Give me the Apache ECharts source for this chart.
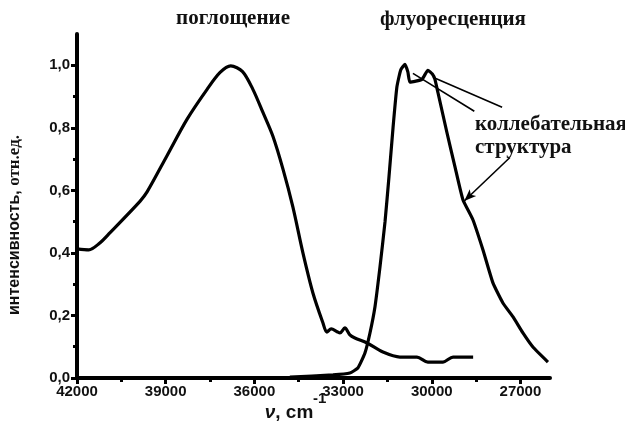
<!DOCTYPE html>
<html>
<head>
<meta charset="utf-8">
<script src="https://cdn.jsdelivr.net/npm/echarts@6/dist/echarts.min.js"></script>
<style>html,body{margin:0;padding:0;background:#fff}#c{width:625px;height:425px}</style>
</head>
<body>
<div id="c"></div>
<script>
// ---- data ----
const absWavenumber = [42000,41600,41250,40880,39870,39630,38960,38280,37600,37160,36800,36400,36050,35710,35370,35030,34700,34360,34020,33680,33550,33400,33200,33105,32940,32770,32600,32190,31650,31075,30500,30130,29620,29280,28600];
const absIntensity  = [0.413,0.410,0.430,0.465,0.565,0.595,0.710,0.827,0.923,0.977,0.998,0.980,0.923,0.849,0.772,0.667,0.548,0.401,0.272,0.176,0.147,0.157,0.148,0.144,0.160,0.138,0.128,0.112,0.083,0.067,0.067,0.051,0.051,0.067,0.067];

const fluWavenumber = [34800,33340,32770,32500,32260,32090,31920,31750,31580,31450,31310,31180,31050,30907,30806,30738,30332,30130,29980,29892,29791,29487,29216,28945,28608,28269,27930,27593,27255,26916,26578,26070];
const fluIntensity  = [0.003,0.010,0.016,0.032,0.080,0.144,0.228,0.356,0.500,0.640,0.800,0.930,0.985,1.003,0.978,0.946,0.955,0.984,0.972,0.955,0.913,0.785,0.676,0.570,0.506,0.410,0.304,0.240,0.196,0.144,0.099,0.051];

const xMajorTicks = [42000,39000,36000,33000,30000,27000];
const xMinorTicks = [40500,37500,34500,31500,28500];
const yMajorTicks = [0,0.2,0.4,0.6,0.8,1.0];
const yMinorTicks = [0.1,0.3,0.5,0.7,0.9];

const titleAbs = 'поглощение';
const titleFlu = 'флуоресценция';
const annotationText = ['коллебательная','структура'];
// annotation pointer lines: [from, to] in data coordinates
const pointerPlain = [
  [[30636,0.974],[28560,0.853]],
  [[29960,0.962],[27620,0.866]]
];
const pointerArrow = [[27356,0.705],[28900,0.566]];

// ---- chart ----
const chart = echarts.init(document.getElementById('c'), null, {renderer:'canvas'});
const fmt = v => v.toFixed(1).replace('.', ',');
const black = '#000';
const axisFont = {fontFamily:'Liberation Sans, Arial, sans-serif', fontWeight:'bold', fontSize:15, color:'#111'};
const serif = '"Liberation Serif", "Times New Roman", serif';

const option = {
  animation:false,
  backgroundColor:'#fff',
  grid:{left:77,right:75,top:34,bottom:47},
  xAxis:[{
    type:'value', min:26000, max:42000, inverse:true,
    axisLine:{show:true,onZero:false,lineStyle:{color:black,width:4,cap:'round'}},
    axisTick:{show:true,inside:false,length:6,customValues:xMajorTicks,lineStyle:{color:black,width:3}},
    axisLabel:{show:true,customValues:xMajorTicks,margin:6,formatter:v=>String(v),...axisFont},
    splitLine:{show:false}
  },{
    type:'value', min:26000, max:42000, inverse:true, position:'bottom',
    axisLine:{show:false},
    axisTick:{show:true,inside:false,length:4,customValues:xMinorTicks,lineStyle:{color:black,width:3}},
    axisLabel:{show:false},
    splitLine:{show:false}
  }],
  yAxis:[{
    type:'value', min:0, max:1.1,
    axisLine:{show:true,onZero:false,lineStyle:{color:black,width:4,cap:'round'}},
    axisTick:{show:true,inside:false,length:6,customValues:yMajorTicks,lineStyle:{color:black,width:3}},
    axisLabel:{show:true,customValues:yMajorTicks,margin:7,formatter:fmt,...axisFont},
    splitLine:{show:false}
  },{
    type:'value', min:0, max:1.1, position:'left',
    axisLine:{show:false},
    axisTick:{show:true,inside:false,length:4,customValues:yMinorTicks,lineStyle:{color:black,width:3}},
    axisLabel:{show:false},
    splitLine:{show:false}
  }],
  series:[{
    name:titleAbs, type:'line', xAxisIndex:0, yAxisIndex:0,
    data:absWavenumber.map((x,i)=>[x,absIntensity[i]]),
    showSymbol:false, smooth:0.3,
    lineStyle:{color:black,width:3.2}
  },{
    name:titleFlu, type:'line', xAxisIndex:0, yAxisIndex:0,
    data:fluWavenumber.map((x,i)=>[x,fluIntensity[i]]),
    showSymbol:false, smooth:0.15,
    lineStyle:{color:black,width:3.2},
    markLine:{
      silent:true, animation:false,
      label:{show:false},
      lineStyle:{color:black,width:1.6,type:'solid'},
      symbol:['none','none'],
      data:[
        ...pointerPlain.map(p=>[{coord:p[0]},{coord:p[1]}]),
        [{coord:pointerArrow[0],symbol:'none'},{coord:pointerArrow[1],symbol:'arrow',symbolSize:[7,12]}]
      ]
    }
  }],
  graphic:[
    {type:'text', x:233, y:19, style:{text:titleAbs, font:'bold 21px '+serif, fill:'#111', align:'center', verticalAlign:'middle'}},
    {type:'text', x:453, y:20, style:{text:titleFlu, font:'bold 21px '+serif, fill:'#111', align:'center', verticalAlign:'middle'}},
    {type:'text', x:475, y:125, style:{text:annotationText[0], font:'bold 21px '+serif, fill:'#111', align:'left', verticalAlign:'middle'}},
    {type:'text', x:475, y:148, style:{text:annotationText[1], font:'bold 21px '+serif, fill:'#111', align:'left', verticalAlign:'middle'}},
    {type:'text', x:15, y:225, rotation:Math.PI/2, style:{
      text:'{a|интенсивность, }{b|отн.ед.}', align:'center', verticalAlign:'middle',
      rich:{a:{fontFamily:'Liberation Sans, Arial, sans-serif',fontWeight:'bold',fontSize:16,fill:'#111'},
            b:{fontFamily:'Liberation Serif, Times New Roman, serif',fontWeight:'bold',fontSize:17,fill:'#111'}}
    }},
    {type:'text', x:289, y:413, style:{
      text:'{i|ν}{n|, cm}', align:'center', verticalAlign:'middle',
      rich:{i:{fontFamily:'Liberation Sans, Arial, sans-serif',fontWeight:'bold',fontStyle:'italic',fontSize:19,fill:'#111'},
            n:{fontFamily:'Liberation Sans, Arial, sans-serif',fontWeight:'bold',fontSize:19,fill:'#111'}}
    }},
    {type:'text', x:313, y:399, style:{text:'-1', font:'bold 15px "Liberation Sans", Arial, sans-serif', fill:'#111', align:'left', verticalAlign:'middle'}}
  ]
};
chart.setOption(option);
</script>
</body>
</html>
